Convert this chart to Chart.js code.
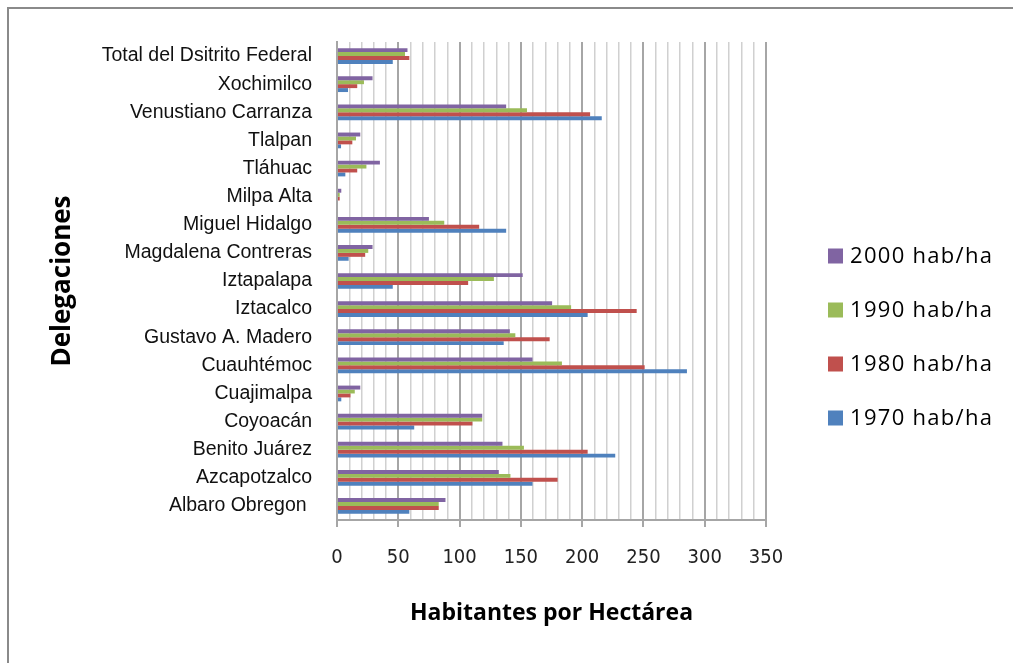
<!DOCTYPE html>
<html lang="es">
<head>
<meta charset="UTF-8">
<title>Densidad por delegación</title>
<script src="https://cdn.jsdelivr.net/npm/chart.js"></script>
<style>
  body { margin: 0; background: #fff; }
  .marco { position: absolute; left: 7px; top: 7px; width: 1020px; height: 670px;
           border-left: 2px solid #8a8a8a; border-top: 2px solid #8a8a8a; }
  .grafica { position: absolute; left: 0; top: 0; width: 1013px; height: 663px; }
</style>
</head>
<body>
<div class="marco"></div>
<div class="grafica"><canvas id="myChart"></canvas></div>

<script>
// delegaciones, de arriba hacia abajo
const delegaciones = [
  'Total del Dsitrito Federal', 'Xochimilco', 'Venustiano Carranza', 'Tlalpan',
  'Tláhuac', 'Milpa Alta', 'Miguel Hidalgo', 'Magdalena Contreras', 'Iztapalapa',
  'Iztacalco', 'Gustavo A. Madero', 'Cuauhtémoc', 'Cuajimalpa', 'Coyoacán',
  'Benito Juárez', 'Azcapotzalco', 'Albaro Obregon '
];

// habitantes por hectárea
const hab2000 = [57.5, 29, 138, 19, 35, 3.5, 75, 29, 151.5, 175.5, 141, 159.5, 19, 118.5, 135, 132, 88.5];
const hab1990 = [55.5, 22, 155, 15.5, 24, 2.2, 87.5, 25.5, 128, 191, 145.5, 183.5, 14.5, 118.5, 152.5, 141.5, 83];
const hab1980 = [59, 16.5, 206.5, 12.5, 16.5, 2.2, 116, 23, 107, 244.5, 173.5, 251, 11, 110.5, 204.5, 180, 83];
const hab1970 = [45.5, 9, 216, 3.3, 6.8, 0.8, 138, 9.5, 45.5, 204.5, 136, 285.5, 3.5, 63, 227, 159.5, 59];

const series = ['2000 hab/ha', '1990 hab/ha', '1980 hab/ha', '1970 hab/ha'];
const colores = ['#8064A2', '#9BBB59', '#C0504D', '#4F81BD'];

// leyenda a la derecha, como en Excel
const leyenda = {
  id: 'leyenda',
  afterDraw(chart) {
    const ctx = chart.ctx;
    const x = chart.chartArea.right + 62;
    ctx.save();
    ctx.font = '22px "Open Sans"';
    ctx.letterSpacing = '1.3px';
    ctx.textBaseline = 'middle';
    chart.data.datasets.forEach((ds, i) => {
      const y = 256 + i * 54;
      ctx.fillStyle = ds.backgroundColor;
      ctx.fillRect(x, y - 7.5, 15, 15);
      ctx.fillStyle = '#000';
      ctx.fillText(ds.label, x + 22, y + 1);
    });
    ctx.restore();
  }
};

const datos = {
  labels: delegaciones,
  datasets: [hab2000, hab1990, hab1980, hab1970].map((d, i) => ({
    label: series[i],
    data: d,
    backgroundColor: colores[i],
    borderWidth: 0,
    barPercentage: 1,
    categoryPercentage: 0.56
  }))
};

const config = {
  type: 'bar',
  data: datos,
  plugins: [leyenda],
  options: {
    indexAxis: 'y',
    responsive: true,
    maintainAspectRatio: false,
    animation: false,
    layout: { padding: { top: 42, right: 247, bottom: 0, left: 0 } },
    plugins: {
      legend: { display: false },
      tooltip: { enabled: false }
    },
    scales: {
      x: {
        min: 0,
        max: 350,
        afterFit(scale) { scale.height = 143; },
        ticks: {
          stepSize: 10,
          autoSkip: false,
          maxRotation: 0,
          padding: 19,
          color: '#222',
          font: { family: '"Liberation Sans Narrow", "DejaVu Sans Condensed", Arial', size: 20 },
          callback: v => (v % 50 === 0 ? v : '')
        },
        grid: {
          color: c => (c.tick && c.tick.value % 50 === 0 ? '#a6a6a6' : '#d0d0d0'),
          lineWidth: c => (c.tick && c.tick.value % 50 === 0 ? 2 : 1.5),
          tickColor: c => (c.tick && c.tick.value % 50 === 0 ? '#a6a6a6' : 'rgba(0,0,0,0)'),
          tickLength: 7
        },
        border: { color: '#a6a6a6', width: 2 },
        title: {
          display: true,
          text: 'Habitantes por Hectárea',
          color: '#000',
          font: { family: '"Open Sans"', size: 23, weight: 'bold' },
          padding: { top: 0, bottom: 36 }
        }
      },
      y: {
        afterFit(scale) { scale.width = 337; },
        ticks: {
          autoSkip: false,
          padding: 25,
          color: '#111',
          font: { family: '"Liberation Sans", Arial', size: 19.5 }
        },
        grid: { drawOnChartArea: false, drawTicks: false },
        border: { color: '#a6a6a6', width: 2 },
        title: {
          display: true,
          text: 'Delegaciones',
          color: '#000',
          font: { family: '"Open Sans"', size: 26, weight: 'bold' },
          padding: { top: 47, bottom: 0 }
        }
      }
    }
  }
};

let myChart = new Chart(document.getElementById('myChart'), config);
</script>
</body>
</html>
